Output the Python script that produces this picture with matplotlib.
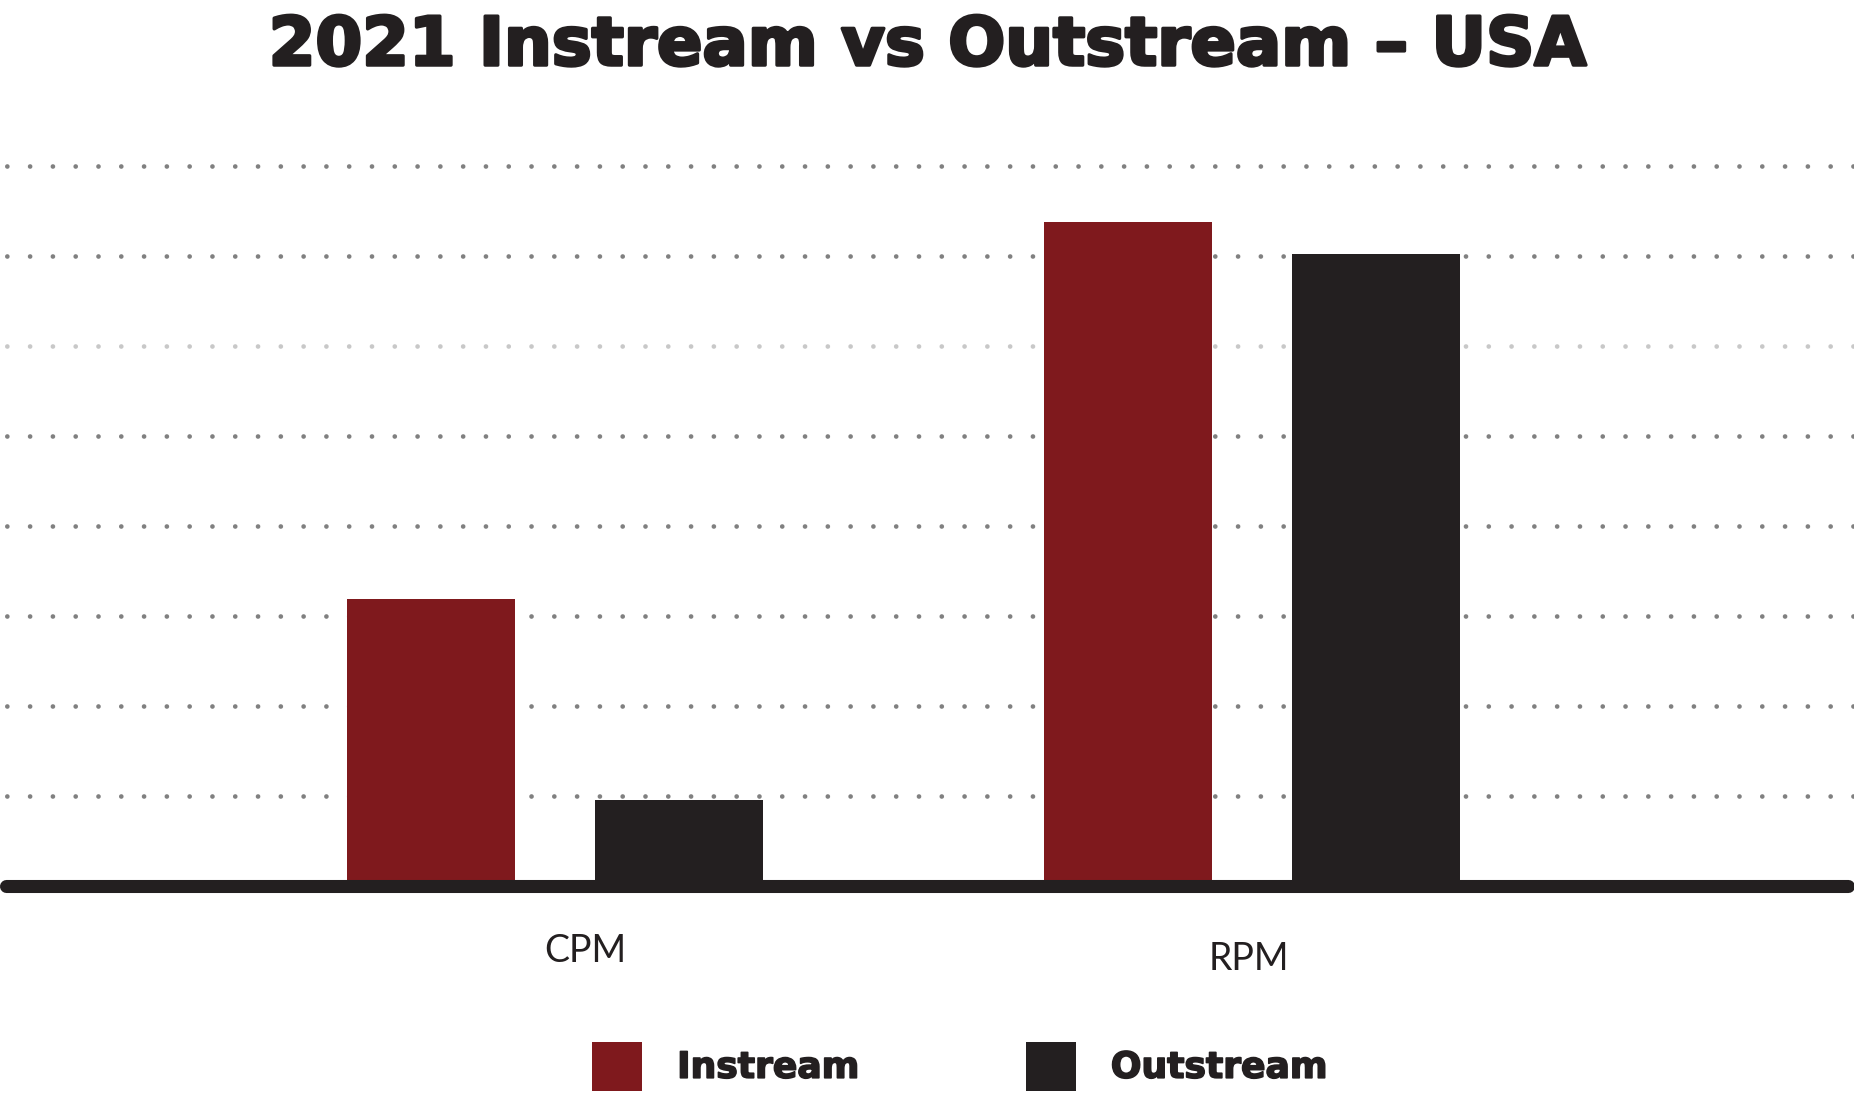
import matplotlib
matplotlib.use("Agg")
import matplotlib.pyplot as plt
import matplotlib.patheffects as pe
import numpy as np

# values (one grid step = 1 unit)
METRICS = ["CPM", "RPM"]
INSTREAM = [3.19, 7.38]
OUTSTREAM = [0.96, 7.03]
GRID_TICKS = [1, 2, 3, 4, 5, 6, 7, 8]
SERIES = ["Instream", "Outstream"]
TITLE = "2021 Instream vs Outstream \u2013 USA"

RED = "#7F191D"
DARK = "#231F20"
GRID = "#808080"
GRID_LIGHT = "#C8C8C8"
LABEL_FONT = "Lato"
BOLD_FONT = "DejaVu Sans"

plt.rcParams["lines.scale_dashes"] = False

fig = plt.figure(figsize=(18.54, 11.03), dpi=100)
ax = fig.add_axes([0, 0.1963, 1, 0.6859])

x = np.arange(len(METRICS))
bar_w = 0.241
offset = 0.178
ax.bar(x - offset, INSTREAM, bar_w, color=RED, label=SERIES[0], zorder=2)
ax.bar(x + offset, OUTSTREAM, bar_w, color=DARK, label=SERIES[1], zorder=2)

ax.set_xlim(-0.7963, 1.8637)
ax.set_ylim(0, 8.405)
ax.set_yticks(GRID_TICKS)
ax.set_axisbelow(True)
ax.yaxis.grid(True, color=GRID, linewidth=3.4,
              linestyle=(11.5, (0.01, 16.4)), dash_capstyle="round")
for val, line in zip(GRID_TICKS, ax.get_ygridlines()):
    if val == 6:
        line.set_color(GRID_LIGHT)

ax.tick_params(left=False, bottom=False, labelleft=False, labelbottom=False)
for s in ax.spines.values():
    s.set_visible(False)

# thick baseline with round ends
ax.axhline(0, xmin=0.0035, xmax=0.9965, color=DARK, linewidth=9.4,
           solid_capstyle="round", zorder=3, clip_on=False)

# category labels (the two sit at slightly different heights in the original)
label_pos = [(0.043, -0.839), (-0.004, -0.928)]
for xi, name, (dx, dy) in zip(x, METRICS, label_pos):
    ax.text(xi + dx, dy, name, ha="center", va="baseline", fontsize=27,
            family=LABEL_FONT, color=DARK, clip_on=False)

leg = fig.legend(loc="center", bbox_to_anchor=(960 / 1854, 0.0335), ncol=2,
                 frameon=False, labelcolor=DARK,
                 prop=dict(family=BOLD_FONT, weight="bold", size=26),
                 handlelength=1.385, handleheight=1.71, handletextpad=0.97,
                 columnspacing=4.6)
for t in leg.get_texts():
    t.set_path_effects([pe.withStroke(linewidth=1.2, foreground=DARK)])

title = fig.text(0.5, 0.941, TITLE, ha="center", va="baseline", fontsize=56,
                 weight="bold", family=BOLD_FONT, color=DARK)
fig.canvas.draw()
w = title.get_window_extent().width
title.set_fontsize(56 * 1317 / w)
title.set_path_effects([pe.withStroke(linewidth=2.4, foreground=DARK)])

fig.savefig("out.png", dpi=100)
